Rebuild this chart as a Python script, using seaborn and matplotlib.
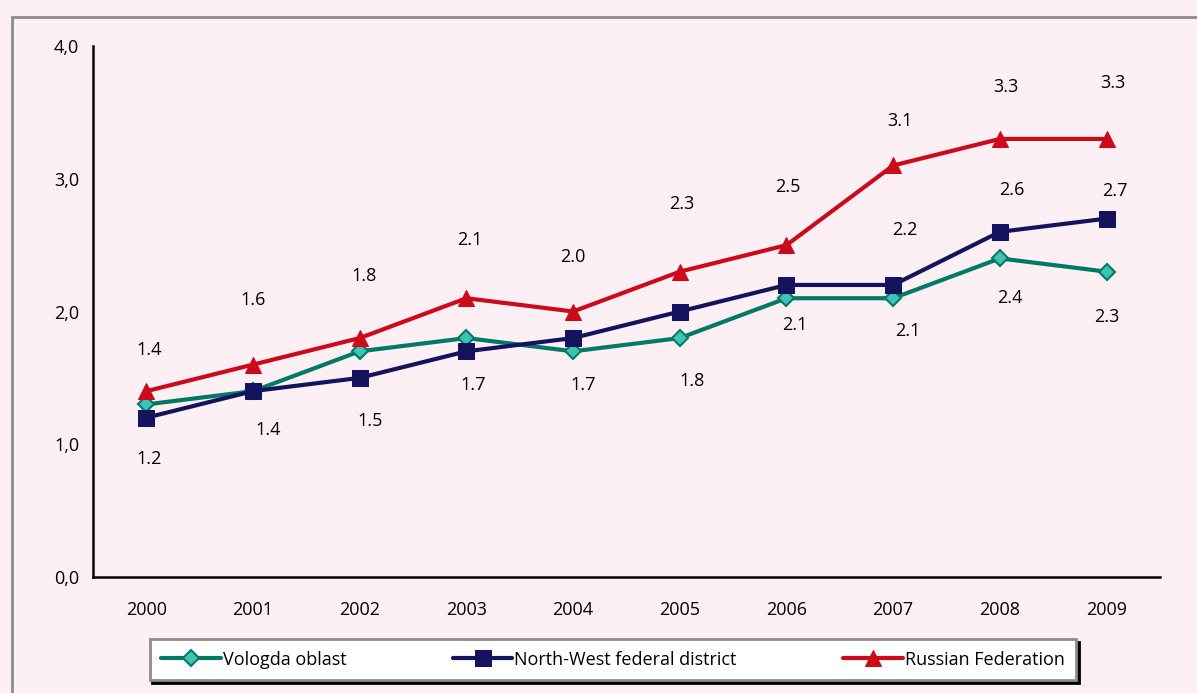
import numpy as np
import pandas as pd
import matplotlib
matplotlib.use('Agg')
import matplotlib.pyplot as plt
from matplotlib.patches import Rectangle
from matplotlib.ticker import FuncFormatter
import seaborn as sns

# data
years = ['2000', '2001', '2002', '2003', '2004', '2005', '2006', '2007', '2008', '2009']
vologda = [1.3, 1.4, 1.7, 1.8, 1.7, 1.8, 2.1, 2.1, 2.4, 2.3]
northwest = [1.2, 1.4, 1.5, 1.7, 1.8, 2.0, 2.2, 2.2, 2.6, 2.7]
russia = [1.4, 1.6, 1.8, 2.1, 2.0, 2.3, 2.5, 3.1, 3.3, 3.3]
series_names = ['Vologda oblast', 'North-West federal district', 'Russian Federation']

# which values carry a data label (None = hidden in the original)
vologda_lab = [None, None, None, None, '1.7', '1.8', '2.1', '2.1', '2.4', '2.3']
northwest_lab = ['1.2', '1.4', '1.5', '1.7', None, None, None, '2.2', '2.6', '2.7']
russia_lab = ['1.4', '1.6', '1.8', '2.1', '2.0', '2.3', '2.5', '3.1', '3.3', '3.3']

# label offsets in pixels (dx, dy) as placed in the original
vologda_off = [(0, 0)] * 4 + [(10, -34), (12, -43), (8, -27), (15, -33), (10, -40), (0, -45)]
northwest_off = [(3, -41), (15, -39), (10, -43), (7, -34), (0, 0), (0, 0), (0, 0),
                 (12, 55), (12, 42), (8, 28)]
russia_off = [(3, 41), (0, 65), (4, 62), (3, 58), (0, 55), (2, 68), (1, 58),
              (7, 44), (6, 52), (6, 56)]

sns.set_style("white")
plt.rcParams['font.family'] = ['Open Sans', 'DejaVu Sans']

bg = '#fdf0f4'
fig = plt.figure(figsize=(11.97, 6.93), dpi=100, facecolor=bg)
ax = fig.add_axes([0.0777, 0.1674, 0.8913, 0.7662])
ax.set_facecolor(bg)

# outer frame (only top and left edges visible in the picture)
fig.patches.append(Rectangle((12 / 1197, -0.1), 1.2, 1 - 17 / 693 + 0.1,
                             transform=fig.transFigure, fill=False,
                             edgecolor='#8c8c8c', linewidth=2))

x = np.arange(len(years))
df = pd.DataFrame({'x': x, 'Vologda': vologda, 'NW': northwest, 'RF': russia})

sns.lineplot(data=df, x='x', y='Vologda', ax=ax, color='#007a66', linewidth=3,
             marker='D', markersize=8, markerfacecolor='#3fc4b4',
             markeredgecolor='#007a66', markeredgewidth=1.5, label=series_names[0])
sns.lineplot(data=df, x='x', y='NW', ax=ax, color='#13135e', linewidth=3,
             marker='s', markersize=11, markeredgecolor='#13135e',
             label=series_names[1])
sns.lineplot(data=df, x='x', y='RF', ax=ax, color='#cc0a1a', linewidth=3,
             marker='^', markersize=12, markeredgecolor='#cc0a1a',
             label=series_names[2])

# data labels
px2pt = 0.72
def put_labels(vals, labs, offs):
    for i, (v, t, o) in enumerate(zip(vals, labs, offs)):
        if t is None:
            continue
        ax.annotate(t, (x[i], v), xytext=(o[0] * px2pt, o[1] * px2pt),
                    textcoords='offset points', ha='center', va='center',
                    fontsize=13, color='black')

put_labels(russia, russia_lab, russia_off)
put_labels(northwest, northwest_lab, northwest_off)
put_labels(vologda, vologda_lab, vologda_off)

# axes
ax.set_xlim(-0.5, 9.5)
ax.set_ylim(0, 4)
ax.set_yticks([0, 1, 2, 3, 4])
ax.yaxis.set_major_formatter(FuncFormatter(lambda v, p: f'{v:.1f}'.replace('.', ',')))
ax.set_xticks(np.arange(-0.5, 10, 1.0))
ax.set_xticklabels([])
ax.set_xticks(x, minor=True)
ax.set_xticklabels(years, minor=True)
ax.tick_params(axis='x', which='major', direction='out', length=6, width=1.5, color='black')
ax.tick_params(axis='x', which='minor', length=0, pad=17, labelsize=13, labelcolor='black')
ax.tick_params(axis='y', direction='out', length=6, width=1.5, color='black',
               labelsize=13, labelcolor='black', pad=4)
ax.set_xlabel('')
ax.set_ylabel('')
for s in ['top', 'right']:
    ax.spines[s].set_visible(False)
for s in ['left', 'bottom']:
    ax.spines[s].set_color('black')
    ax.spines[s].set_linewidth(1.8)

ax.get_legend().remove()
handles, labels = ax.get_legend_handles_labels()
leg = fig.legend(handles, labels, loc='center', bbox_to_anchor=(0.512, 0.048),
                 ncol=3, frameon=True, fancybox=False,
                 shadow={'color': 'black', 'alpha': 1},
                 edgecolor='#8c8c8c', facecolor='white',
                 handlelength=3.3, handletextpad=0.1, columnspacing=5.9,
                 borderpad=0.65, borderaxespad=0,
                 prop={'family': ['Open Sans', 'DejaVu Sans'], 'size': 13})
leg.get_frame().set_linewidth(2)
for t in leg.get_texts():
    t.set_color('black')

plt.savefig('out.png', dpi=100, facecolor=bg)
